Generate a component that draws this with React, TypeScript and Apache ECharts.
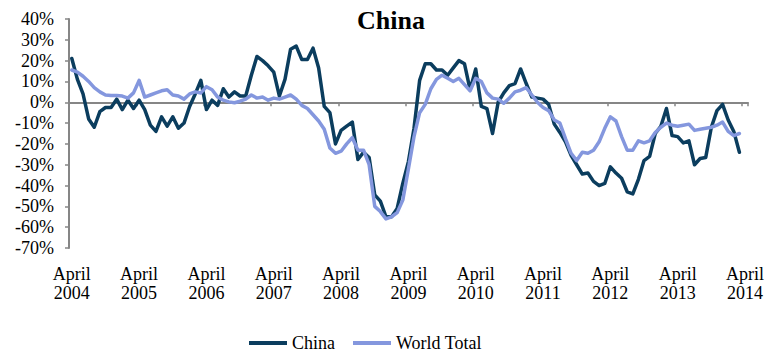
import React, { useEffect, useRef } from "react";
import * as echarts from "echarts";

const monthNames = ["Jan", "Feb", "Mar", "Apr", "May", "Jun", "Jul", "Aug", "Sep", "Oct", "Nov", "Dec"];
// Monthly categories April 2004 .. April 2014
const categories: string[] = [];
for (let k = 0; k <= 120; k++) {
  const m = (3 + k) % 12;
  const y = 2004 + Math.floor((3 + k) / 12);
  categories.push(`${monthNames[m]} ${y}`);
}

const chinaValues = [
  21, 11, 4, -8, -12, -4.5, -2.5, -2.5, 1.5, -3.5, 1, -3,
  1, -3.5, -11, -14, -7, -11.5, -7, -12.5, -10, -2, 4, 10.5,
  -3.5, 1, -1.5, 6.5, 2.5, 5, 3, 3, 13, 22, 20, 17.5,
  14.5, 3, 11, 25.5, 27, 20.5, 20.5, 26, 16.5, -2, -5, -20,
  -13.5, -11.5, -9.5, -27.5, -24, -26.5, -44.5, -47.5, -55, -55, -51, -39,
  -28.5, -12.5, 10.5, 18.5, 18.5, 15.5, 15.5, 13, 16.5, 20, 18.5, 6,
  16, -2, -3, -15, 0, 4.5, 8, 9, 16, 9, 2.5, 2,
  1.5, -1, -10.5, -14.5, -19, -25.5, -30, -34.5, -34, -38, -40, -39,
  -31, -34, -36.5, -43, -44, -37, -28, -26, -15, -11.5, -3, -16,
  -16.5, -19.5, -18.5, -30, -27, -26.5, -12, -4, -1, -8.5, -14, -24,
];

const worldValues = [
  15.5, 14.5, 12.5, 10, 7, 5, 3.5, 3.3, 3.2, 3, 2, 4.5,
  10.5, 2.5, 3.5, 4.5, 5.5, 6, 3.5, 3, 1.5, 4, 5, 4.5,
  7.5, 6, 2.5, 1, 0.2, -0.2, 0.5, 1.5, 3.5, 2, 2.5, 1,
  2, 1.5, 2.5, 3.5, 1.5, -1.5, -3, -6, -9, -13, -22, -24.5,
  -23.5, -20, -17, -23, -23, -30, -50, -52.5, -56, -55, -53, -47,
  -32, -16.5, -5, -1, 6.5, 11, 13, 11.5, 10, 11.5, 8.5, 5.5,
  11.5, 10, 4.5, 2, 1.5, -0.5, 2, 5, 5.8, 7, 3.5, 0,
  -2.5, -4, -8.5, -10, -17.5, -24.5, -28, -24, -24.5, -23, -19, -12.5,
  -7, -9, -16.5, -23, -23, -18.5, -19.5, -18.5, -14.5, -12, -10, -11,
  -11.5, -11, -10.5, -13.5, -13, -12.5, -12, -11, -9.5, -14, -16, -15,
];

const seriesNames = ["China", "World Total"];
const seriesColors = ["#0b3d5e", "#8497de"];
const yMin = -70;
const yMax = 40;
const yStep = 10;

const FONT = "'Liberation Serif', 'Times New Roman', serif";

export default function App() {
  const ref = useRef<HTMLDivElement>(null);
  useEffect(() => {
    if (!ref.current) return;
    const chart = echarts.init(ref.current, undefined, { renderer: "svg" });
    chart.setOption({
      animation: false,
      backgroundColor: "#ffffff",
      title: {
        text: "China",
        left: 352,
        top: 2,
        textStyle: { fontFamily: FONT, fontWeight: "bold", fontSize: 26, color: "#000" },
      },
      legend: {
        data: seriesNames,
        left: 249,
        top: 333,
        padding: 0,
        itemWidth: 38,
        itemHeight: 4,
        itemGap: 18,
        icon: "rect",
        textStyle: { fontFamily: FONT, fontSize: 18, lineHeight: 20, color: "#000" },
      },
      grid: { left: 69, right: 19, top: 19, bottom: 107, containLabel: false },
      xAxis: [
        {
          type: "category",
          data: categories,
          boundaryGap: true,
          position: "bottom",
          axisLine: { show: true, onZero: true, lineStyle: { color: "#868686", width: 2 } },
          axisTick: { show: true, interval: 11, length: 4, lineStyle: { color: "#868686", width: 1.5 } },
          axisLabel: { show: false },
          splitLine: { show: false },
        },
        {
          type: "category",
          data: categories,
          boundaryGap: true,
          position: "bottom",
          axisLine: { show: false, onZero: false },
          axisTick: { show: false },
          axisLabel: {
            show: true,
            interval: 11,
            margin: 16,
            fontFamily: FONT,
            fontSize: 18,
            lineHeight: 19,
            color: "#000",
            formatter: (v: string) => {
              const parts = v.split(" ");
              return parts[0] === "Apr" ? `April\n${parts[1]}` : "";
            },
          },
          splitLine: { show: false },
        },
      ],
      yAxis: {
        type: "value",
        min: yMin,
        max: yMax,
        interval: yStep,
        axisLine: { show: true, lineStyle: { color: "#868686", width: 2 } },
        axisTick: { show: true, length: 4, lineStyle: { color: "#868686", width: 1.5 } },
        axisLabel: {
          formatter: "{value}%",
          margin: 15,
          fontFamily: FONT,
          fontSize: 18,
          color: "#000",
        },
        splitLine: { show: false },
      },
      series: [
        {
          name: seriesNames[0],
          type: "line",
          data: chinaValues,
          xAxisIndex: 0,
          showSymbol: false,
          symbol: "none",
          color: seriesColors[0],
          lineStyle: { color: seriesColors[0], width: 3.5, join: "round", cap: "round" },
        },
        {
          name: seriesNames[1],
          type: "line",
          data: worldValues,
          xAxisIndex: 0,
          showSymbol: false,
          symbol: "none",
          color: seriesColors[1],
          lineStyle: { color: seriesColors[1], width: 3.5, join: "round", cap: "round" },
        },
      ],
    });
    return () => chart.dispose();
  }, []);
  return (
    <div
      ref={ref}
      style={{ position: "absolute", left: 0, top: 0, width: 767, height: 355, background: "#fff" }}
    />
  );
}
